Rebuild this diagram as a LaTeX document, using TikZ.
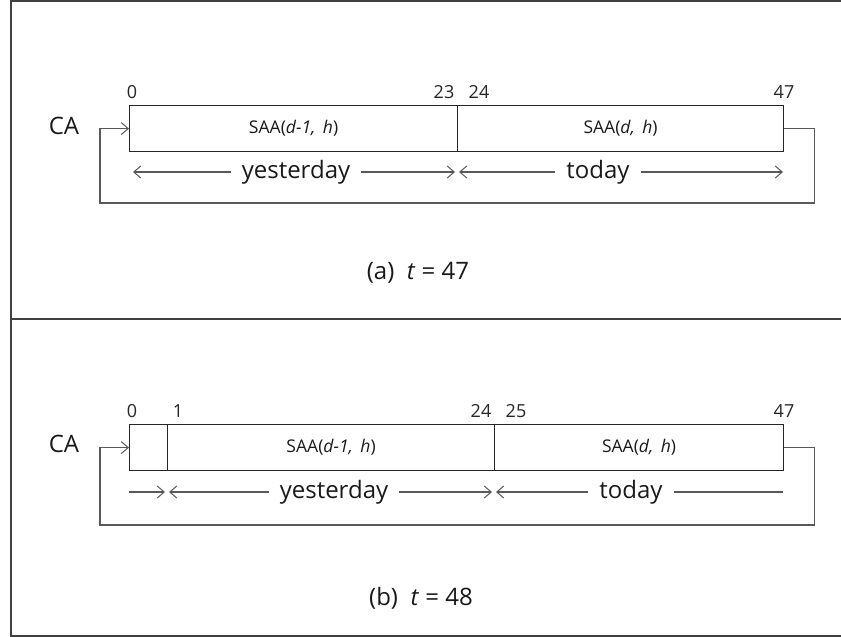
\documentclass[tikz,border=0pt]{standalone}
\usepackage{fontspec}
\setmainfont{Open Sans}
\usetikzlibrary{arrows.meta}
\begin{document}
\begin{tikzpicture}[x=1pt,y=-1pt,
  frame/.style={draw=black!75, line width=1.6pt},
  cell/.style={draw=black!85, line width=1.2pt, minimum height=46pt, inner sep=0pt, anchor=north west, font=\fontsize{17.5}{19}\selectfont, text=black!90},
  wire/.style={draw=black!65, line width=1.2pt},
  arr/.style={wire, -{Straight Barb[length=7pt,width=12pt,line width=1pt]}},
  idx/.style={font=\fontsize{18}{20}\selectfont, inner sep=0pt, text=black!85},
  lbl/.style={font=\fontsize{24}{26}\selectfont, inner xsep=11pt, inner ysep=0pt, text=black!90},
  captxt/.style={font=\fontsize{24}{26}\selectfont, inner sep=0pt, text=black!90}]
\useasboundingbox (0,0) rectangle (841,637);
% frame
\draw[frame] (841,1) -- (11,1) -- (11,636) -- (841,636);
\draw[frame] (11,319) -- (841,319);

% ---------- panel (a) ----------
\node[cell, minimum width=328pt] (a1) at (129,105) {SAA(\textit{d-1,\, h})};
\node[cell, minimum width=326pt] (a2) at (457,105) {SAA(\textit{d,\, h})};
\node[lbl, inner xsep=0pt] (caa) at (64,126) {CA};
\node[idx] (a0) at (132,92) {0};
\node[idx] (a23) at (444,92) {23};
\node[idx] (a24) at (479,92) {24};
\node[idx] (a47) at (784,92) {47};
\coordinate (aL) at (100,203);
\draw[arr] (a2.east) -- ++(30,0) |- (aL) |- (a1.west);
\node[lbl] (ayest) at (296,172) {yesterday};
\node[lbl] (atod) at (598,172) {today};
\coordinate (ay1) at (133,172);
\coordinate (ay2) at (455,172);
\coordinate (at1) at (459,172);
\coordinate (at2) at (783,172);
\draw[arr] (ayest.west) -- (ay1);
\draw[arr] (ayest.east) -- (ay2);
\draw[arr] (atod.west) -- (at1);
\draw[arr] (atod.east) -- (at2);
\node[captxt] (capa) at (418,273) {(a)~~\textit{t} = 47};

% ---------- panel (b) ----------
\node[cell, minimum width=38pt] (b0) at (129,424) {};
\node[cell, minimum width=327pt] (b1) at (167,424) {SAA(\textit{d-1,\, h})};
\node[cell, minimum width=289pt] (b2) at (494,424) {SAA(\textit{d,\, h})};
\node[lbl, inner xsep=0pt] (cab) at (64,444) {CA};
\node[idx] (b0n) at (132,411) {0};
\node[idx] (b1n) at (178,411) {1};
\node[idx] (b24) at (481,411) {24};
\node[idx] (b25) at (516,411) {25};
\node[idx] (b47) at (784,411) {47};
\coordinate (bL) at (100,525);
\draw[arr] (b2.east) -- ++(30,0) |- (bL) |- (b0.west);
\node[lbl] (byest) at (334,492) {yesterday};
\node[lbl] (btod) at (631,492) {today};
\coordinate (bs0) at (129,492);
\coordinate (bs1) at (165,492);
\coordinate (by1) at (169,492);
\coordinate (by2) at (492,492);
\coordinate (bt1) at (496,492);
\coordinate (bt2) at (783,492);
\draw[arr] (bs0) -- (bs1);
\draw[arr] (byest.west) -- (by1);
\draw[arr] (byest.east) -- (by2);
\draw[arr] (btod.west) -- (bt1);
\draw[wire] (btod.east) -- (bt2);
\node[captxt] (capb) at (421,598) {(b)~~\textit{t} = 48};
\end{tikzpicture}
\end{document}
